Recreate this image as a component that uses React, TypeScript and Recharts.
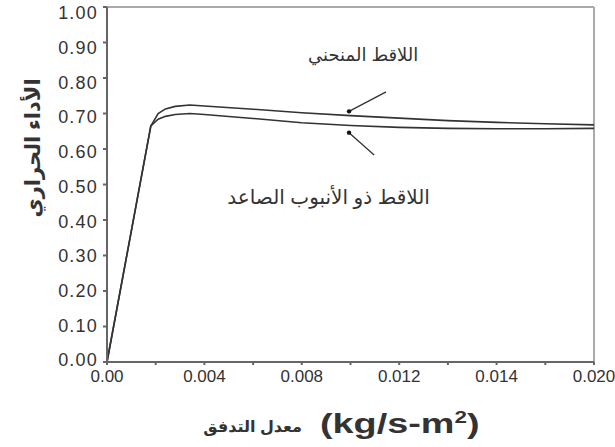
import React from 'react';
import {
  LineChart,
  Line,
  XAxis,
  YAxis,
  ReferenceLine,
  ReferenceDot,
} from 'recharts';

// flow rate (kg/s-m2)
const flowRate = [0, 0.0018, 0.0021, 0.0024, 0.0028, 0.0034, 0.004, 0.006, 0.008, 0.01, 0.012, 0.014, 0.016, 0.018, 0.02];
// curved collector
const curvedCollector = [0, 0.665, 0.7, 0.713, 0.72, 0.724, 0.721, 0.712, 0.702, 0.694, 0.687, 0.68, 0.675, 0.671, 0.668];
// riser tube collector
const riserCollector = [0, 0.665, 0.684, 0.692, 0.697, 0.7, 0.697, 0.686, 0.674, 0.666, 0.661, 0.658, 0.657, 0.657, 0.658];

const xTicks = [0, 0.002, 0.004, 0.006, 0.008, 0.01, 0.012, 0.014, 0.016, 0.018, 0.02];
const xTickLabels = ['0.00', '', '0.004', '', '0.008', '', '0.012', '', '0.014', '', '0.020'];
const yTicks = [0, 0.1, 0.2, 0.3, 0.4, 0.5, 0.6, 0.7, 0.8, 0.9, 1];
const yTickLabels = ['0.00', '0.10', '0.20', '0.30', '0.40', '0.50', '0.60', '0.70', '0.80', '0.90', '1.00'];

const data = flowRate.map((x, i) => ({
  x,
  curved: curvedCollector[i],
  riser: riserCollector[i],
}));

const FONT = '"Liberation Sans", Arial, "DejaVu Sans", sans-serif';
const INK = '#333';

// y labels sit a little low near the top and a little high near the bottom
const YTick = (props: any) => {
  const { x, y, payload, index } = props;
  const dy = -2 + 8 * payload.value;
  return (
    <text x={x} y={y + dy} dy="0.355em" textAnchor="end" fill={INK} fontSize={18} fontFamily={FONT} letterSpacing={1.2}>
      {yTickLabels[index]}
    </text>
  );
};

export default function App() {
  return (
    <div style={{ position: 'absolute', left: 0, top: 0, width: 615, height: 447, background: '#fff', fontFamily: FONT }}>
      <LineChart width={615} height={447} data={data} margin={{ top: 7, right: 21, bottom: 0, left: 0 }}>
        <XAxis
          dataKey="x"
          type="number"
          domain={[0, 0.02]}
          ticks={xTicks}
          interval={0}
          tickFormatter={(v: number, i: number) => xTickLabels[i]}
          height={85}
          stroke="#666"
          strokeWidth={2}
          tickSize={3}
          tick={{ fill: INK, fontSize: 17, fontFamily: FONT, dy: 3 }}
        />
        <YAxis
          type="number"
          domain={[0, 1]}
          ticks={yTicks}
          interval={0}
          width={107}
          stroke="#666"
          strokeWidth={2}
          tickSize={4}
          tickMargin={5}
          tick={<YTick />}
        />
        <ReferenceLine y={1} stroke="#aaa" strokeWidth={2} />
        <ReferenceLine x={0.02} stroke="#aaa" strokeWidth={2} />
        <Line type="linear" dataKey="curved" stroke={INK} strokeWidth={1.6} dot={false} isAnimationActive={false} />
        <Line type="linear" dataKey="riser" stroke={INK} strokeWidth={1.6} dot={false} isAnimationActive={false} />
        <ReferenceLine segment={[{ x: 0.01146, y: 0.761 }, { x: 0.00994, y: 0.706 }]} stroke={INK} strokeWidth={1.3} />
        <ReferenceLine segment={[{ x: 0.01097, y: 0.583 }, { x: 0.00994, y: 0.646 }]} stroke={INK} strokeWidth={1.3} />
        <ReferenceDot x={0.00994} y={0.706} r={2.2} fill="#111" stroke="none" />
        <ReferenceDot x={0.00994} y={0.646} r={2.2} fill="#111" stroke="none" />
        <ReferenceDot
          x={0.01052}
          y={0.865}
          r={0}
          stroke="none"
          label={{ value: 'اللاقط المنحني', position: 'center', fill: INK, fontSize: 18, fontFamily: FONT }}
        />
        <ReferenceDot
          x={0.0091}
          y={0.465}
          r={0}
          stroke="none"
          label={{ value: 'اللاقط ذو الأنبوب الصاعد', position: 'center', fill: INK, fontSize: 20, fontFamily: FONT }}
        />
      </LineChart>
      <div
        style={{
          position: 'absolute',
          left: 33,
          top: 148,
          transform: 'translate(-50%, -50%) rotate(-90deg)',
          whiteSpace: 'nowrap',
          fontSize: 21,
          fontWeight: 'bold',
          color: INK,
          direction: 'rtl',
        }}
      >
        الأداء الحراري
      </div>
      <div
        style={{
          position: 'absolute',
          right: 615 - 302,
          top: 417,
          whiteSpace: 'nowrap',
          fontSize: 16,
          fontWeight: 'bold',
          color: INK,
          direction: 'rtl',
        }}
      >
        معدل التدفق
      </div>
      <div
        style={{
          position: 'absolute',
          left: 320,
          top: 409,
          whiteSpace: 'nowrap',
          fontSize: 27,
          fontWeight: 'bold',
          color: INK,
          transform: 'scaleX(1.4)',
          transformOrigin: 'left center',
        }}
      >
        (kg/s-m<sup style={{ fontSize: 16 }}>2</sup>)
      </div>
    </div>
  );
}
